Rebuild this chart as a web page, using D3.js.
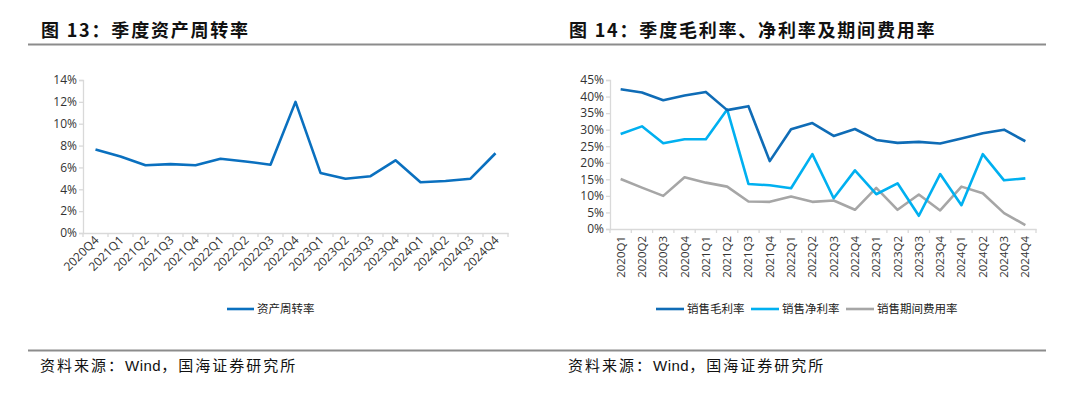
<!DOCTYPE html>
<html lang="zh">
<head>
<meta charset="UTF-8">
<title>季度资产周转率 / 季度毛利率、净利率及期间费用率</title>
<script src="https://d3js.org/d3.v7.min.js"></script>
<style>
  body { margin: 0; background: #fff; }
  svg { display: block; }
</style>
</head>
<body>
<svg width="1080" height="394"></svg>
<script>
// ---- data ----
var quartersA = ["2020Q4","2021Q1","2021Q2","2021Q3","2021Q4","2022Q1","2022Q2","2022Q3","2022Q4",
                 "2023Q1","2023Q2","2023Q3","2023Q4","2024Q1","2024Q2","2024Q3","2024Q4"];
var turnover = [7.65, 7.0, 6.2, 6.3, 6.2, 6.8, 6.55, 6.25, 12.0, 5.5, 4.97, 5.2, 6.65, 4.64, 4.76, 4.97, 7.3];
var ticksA = [0, 2, 4, 6, 8, 10, 12, 14];

var quartersB = ["2020Q1","2020Q2","2020Q3","2020Q4","2021Q1","2021Q2","2021Q3","2021Q4",
                 "2022Q1","2022Q2","2022Q3","2022Q4","2023Q1","2023Q2","2023Q3","2023Q4",
                 "2024Q1","2024Q2","2024Q3","2024Q4"];
var grossMargin = [42.2, 41.2, 38.9, 40.3, 41.4, 35.9, 37.1, 20.5, 30.1, 32.0, 28.1, 30.2, 26.9, 26.0, 26.3, 25.8, 27.3, 28.9, 30.0, 26.5];
var netMargin   = [28.7, 31.0, 25.9, 27.1, 27.1, 36.1, 13.6, 13.2, 12.3, 22.6, 9.3, 17.7, 10.5, 13.8, 4.0, 16.6, 7.2, 22.6, 14.7, 15.3];
var expenseRate = [15.1, 12.5, 10.0, 15.6, 14.0, 12.8, 8.3, 8.2, 9.8, 8.2, 8.6, 5.8, 12.4, 5.8, 10.4, 5.6, 12.8, 10.8, 4.8, 1.2];
var ticksB = [0, 5, 10, 15, 20, 25, 30, 35, 40, 45];

var seriesB = [
  { name: "销售毛利率", values: grossMargin, color: "#0f6cb6" },
  { name: "销售净利率", values: netMargin, color: "#00b0f0" },
  { name: "销售期间费用率", values: expenseRate, color: "#a6a6a6" }
];

var svg = d3.select("svg");
var axisColor = "#d9d9d9";
var labelFont = "'Open Sans','Noto Sans','DejaVu Sans',sans-serif";
var cjkSans = "'Noto Sans CJK SC','Noto Sans',sans-serif";

// ---- panel frame: title + rules + source ----
function frame(x0, x1, tx, title) {
  svg.append("text")
    .attr("x", tx).attr("y", 37)
    .attr("font-family", cjkSans)
    .attr("font-weight", "bold")
    .attr("font-size", "18px")
    .attr("letter-spacing", "1.8px")
    .attr("fill", "#111")
    .text(title);
  svg.append("line")
    .attr("x1", x0).attr("x2", x1).attr("y1", 44.5).attr("y2", 44.5)
    .attr("stroke", "#8c8c8c").attr("stroke-width", 2);
  svg.append("line")
    .attr("x1", x0).attr("x2", x1).attr("y1", 350.5).attr("y2", 350.5)
    .attr("stroke", "#8c8c8c").attr("stroke-width", 2);
  var src = svg.append("text")
    .attr("x", tx - 1).attr("y", 371)
    .attr("font-size", "15px")
    .attr("letter-spacing", "2px")
    .attr("fill", "#111");
  src.append("tspan").attr("font-family", cjkSans).text("资料来源：");
  src.append("tspan").attr("font-family", "'Liberation Sans',Arial,sans-serif").attr("letter-spacing", "0.5px").text("Wind");
  src.append("tspan").attr("font-family", cjkSans).text("，国海证券研究所");
}
frame(28, 540, 41, "图 13：季度资产周转率");
frame(540, 1046, 569, "图 14：季度毛利率、净利率及期间费用率");

// ---- left chart: asset turnover ----
var xA = d3.scaleBand().domain(quartersA).range([83, 508]);
var yA = d3.scaleLinear().domain([0, 14]).range([233, 80]);

var gA = svg.append("g");
gA.append("g")
  .attr("transform", "translate(83,0)")
  .call(d3.axisLeft(yA).tickValues(ticksA).tickSize(4).tickFormat(function (d) { return d + "%"; }))
  .call(function (g) {
    g.selectAll("path,line").attr("stroke", axisColor).attr("stroke-width", 1.3);
    g.selectAll("text").attr("fill", "#333").attr("font-family", labelFont).attr("font-size", "12px").attr("x", -6);
  });
var xAxisA = gA.append("g")
  .attr("transform", "translate(0,233)")
  .call(d3.axisBottom(xA).tickSize(0).tickFormat(""));
xAxisA.select("path").attr("stroke", axisColor).attr("stroke-width", 1.3);
xAxisA.selectAll(".tick").remove();
gA.append("g").selectAll("line")
  .data(quartersA.concat([null]))
  .join("line")
  .attr("x1", function (d, i) { return xA.range()[0] + i * xA.step(); })
  .attr("x2", function (d, i) { return xA.range()[0] + i * xA.step(); })
  .attr("y1", 233).attr("y2", 237)
  .attr("stroke", axisColor).attr("stroke-width", 1.3);
gA.append("g").selectAll("text")
  .data(quartersA)
  .join("text")
  .attr("transform", function (d) {
    return "translate(" + (xA(d) + xA.bandwidth() / 2 + 4) + ",241) rotate(-45)";
  })
  .attr("text-anchor", "end")
  .attr("fill", "#333")
  .attr("font-family", labelFont)
  .attr("font-size", "12px")
  .text(function (d) { return d; });

gA.append("path")
  .datum(turnover)
  .attr("fill", "none")
  .attr("stroke", "#0a70bf")
  .attr("stroke-width", 2.6)
  .attr("stroke-linejoin", "round")
  .attr("d", d3.line()
    .x(function (d, i) { return xA(quartersA[i]) + xA.bandwidth() / 2; })
    .y(function (d) { return yA(d); }));

// legend left
gA.append("line").attr("x1", 227).attr("x2", 254).attr("y1", 309).attr("y2", 309)
  .attr("stroke", "#0a70bf").attr("stroke-width", 2.6);
gA.append("text").attr("x", 257).attr("y", 313)
  .attr("font-family", cjkSans).attr("font-size", "11.5px").attr("fill", "#222")
  .text("资产周转率");

// ---- right chart: margins ----
var xB = d3.scaleBand().domain(quartersB).range([610, 1036]);
var yB = d3.scaleLinear().domain([0, 45]).range([229, 80]);

var gB = svg.append("g");
gB.append("g")
  .attr("transform", "translate(610,0)")
  .call(d3.axisLeft(yB).tickValues(ticksB).tickSize(4).tickFormat(function (d) { return d + "%"; }))
  .call(function (g) {
    g.selectAll("path,line").attr("stroke", axisColor).attr("stroke-width", 1.3);
    g.selectAll("text").attr("fill", "#333").attr("font-family", labelFont).attr("font-size", "12px").attr("x", -6);
  });
var xAxisB = gB.append("g")
  .attr("transform", "translate(0,229)")
  .call(d3.axisBottom(xB).tickSize(0).tickFormat(""));
xAxisB.select("path").attr("stroke", axisColor).attr("stroke-width", 1.3);
xAxisB.selectAll(".tick").remove();
gB.append("g").selectAll("line")
  .data(quartersB.concat([null]))
  .join("line")
  .attr("x1", function (d, i) { return xB.range()[0] + i * xB.step(); })
  .attr("x2", function (d, i) { return xB.range()[0] + i * xB.step(); })
  .attr("y1", 229).attr("y2", 233)
  .attr("stroke", axisColor).attr("stroke-width", 1.3);
gB.append("g").selectAll("text")
  .data(quartersB)
  .join("text")
  .attr("transform", function (d) {
    return "translate(" + (xB(d) + xB.bandwidth() / 2 + 4) + ",236) rotate(-90)";
  })
  .attr("text-anchor", "end")
  .attr("fill", "#333")
  .attr("font-family", labelFont)
  .attr("font-size", "11.5px")
  .text(function (d) { return d; });

var lineB = d3.line()
  .x(function (d, i) { return xB(quartersB[i]) + xB.bandwidth() / 2; })
  .y(function (d) { return yB(d); });

// draw gray first, then light blue, then dark blue on top
gB.selectAll("path.series")
  .data(seriesB.slice().reverse())
  .join("path")
  .attr("class", "series")
  .attr("fill", "none")
  .attr("stroke", function (d) { return d.color; })
  .attr("stroke-width", 2.6)
  .attr("stroke-linejoin", "round")
  .attr("d", function (d) { return lineB(d.values); });

// legend right
var legendX = [656, 751, 846];
seriesB.forEach(function (s, i) {
  gB.append("line").attr("x1", legendX[i]).attr("x2", legendX[i] + 28).attr("y1", 309).attr("y2", 309)
    .attr("stroke", s.color).attr("stroke-width", 2.6);
  gB.append("text").attr("x", legendX[i] + 31).attr("y", 313)
    .attr("font-family", cjkSans).attr("font-size", "11.5px").attr("fill", "#222")
    .text(s.name);
});
</script>
</body>
</html>
